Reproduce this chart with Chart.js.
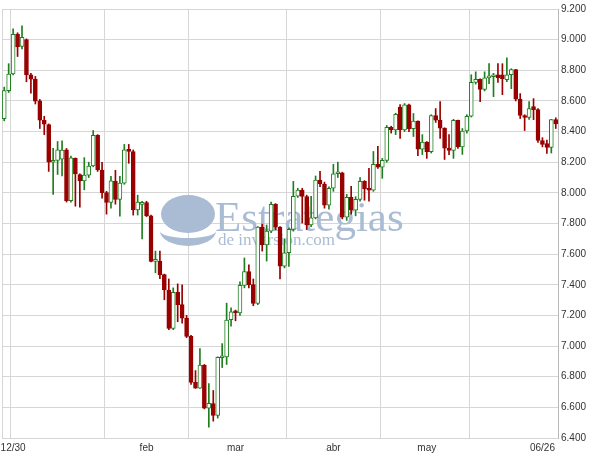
<!DOCTYPE html>
<html>
<head>
<meta charset="utf-8">
<script src="https://cdn.jsdelivr.net/npm/chart.js@4.4.0/dist/chart.umd.min.js"></script>
<style>
  html, body { margin: 0; padding: 0; background: #fff; }
  #wrap { position: relative; width: 596px; height: 458px; }
</style>
</head>
<body>
<div id="wrap"><canvas id="chart"></canvas></div>
<script>
// Daily sessions 12/30 -> 06/26
const dates = [
  '12/30','12/31',
  '01/02','01/05','01/06','01/07','01/08','01/09','01/12','01/13','01/14','01/15','01/16','01/19','01/20','01/21','01/22','01/23','01/26','01/27','01/28','01/29','01/30',
  '02/02','02/03','02/04','02/05','02/06','02/09','02/10','02/11','02/12','02/13','02/17','02/18','02/19','02/20','02/23','02/24','02/25','02/26','02/27',
  '03/02','03/03','03/04','03/05','03/06','03/09','03/10','03/11','03/12','03/13','03/16','03/17','03/18','03/19','03/20','03/23','03/24','03/25','03/26','03/27','03/30','03/31',
  '04/01','04/02','04/03','04/06','04/07','04/08','04/09','04/13','04/14','04/15','04/16','04/17','04/20','04/21','04/22','04/23','04/24','04/27','04/28','04/29','04/30',
  '05/01','05/04','05/05','05/06','05/07','05/08','05/11','05/12','05/13','05/14','05/15','05/18','05/19','05/20','05/21','05/22','05/26','05/27','05/28','05/29',
  '06/01','06/02','06/03','06/04','06/05','06/08','06/09','06/10','06/11','06/12','06/15','06/16','06/17','06/18','06/19','06/22','06/23','06/24','06/25','06/26'
];

const opens = [
  8485, 8667,
  8776, 9035, 8955, 9000, 8770, 8742, 8600, 8474, 8446, 8200, 8212, 8220, 8281, 7949, 8225, 8120, 8078, 8116, 8175, 8375, 8149,
  8001, 7937, 8075, 7957, 8063, 8281, 8270, 7889, 7925, 7937, 7850, 7553, 7555, 7466, 7366, 7115, 7350, 7270, 7182,
  7063, 6764, 6726, 6874, 6595, 6625, 6547, 6924, 6930, 7172, 7230, 7217, 7396, 7487, 7401, 7278, 7776, 7660, 7750, 7925, 7776, 7522,
  7609, 7762, 7978, 8018, 7976, 7790, 7837, 8083, 8058, 7920, 8030, 8125, 8131, 7842, 7970, 7887, 7957, 8076, 8025, 8017, 8186,
  8168, 8212, 8427, 8411, 8560, 8410, 8575, 8419, 8469, 8285, 8331, 8269, 8504, 8475, 8422, 8292, 8277, 8473, 8300, 8404,
  8500, 8721, 8741, 8675, 8750, 8758, 8771, 8771, 8739, 8771, 8804, 8612, 8505, 8492, 8563, 8543, 8342, 8322, 8296, 8478
];
const highs = [
  8690, 8843,
  9070, 9045, 9090, 9005, 8780, 8760, 8610, 8500, 8450, 8290, 8335, 8340, 8290, 8240, 8228, 8125, 8230, 8200, 8407, 8380, 8200,
  8010, 8108, 8147, 8108, 8316, 8316, 8280, 7985, 7945, 7945, 7855, 7620, 7620, 7470, 7438, 7380, 7406, 7400, 7200,
  7070, 6840, 6984, 6880, 6756, 6710, 6930, 7016, 7280, 7250, 7235, 7420, 7575, 7530, 7438, 7780, 7796, 7790, 7940, 7930, 7780, 7700,
  7770, 8075, 8030, 8030, 7985, 7978, 8110, 8140, 8070, 8040, 8186, 8200, 8135, 7990, 8043, 7975, 8100, 8080, 8160, 8270, 8303,
  8225, 8440, 8435, 8520, 8576, 8583, 8580, 8518, 8470, 8380, 8335, 8510, 8550, 8595, 8425, 8380, 8480, 8475, 8420, 8510,
  8771, 8790, 8745, 8790, 8843, 8780, 8843, 8843, 8882, 8810, 8806, 8648, 8510, 8595, 8615, 8550, 8360, 8345, 8480, 8490
];
const lows = [
  8470, 8655,
  8770, 8890, 8940, 8725, 8650, 8580, 8420, 8380, 8140, 7990, 8120, 8110, 7940, 7940, 7913, 7906, 8020, 8100, 8170, 8140, 7965,
  7861, 7900, 7926, 7848, 8056, 8193, 7855, 7855, 7700, 7845, 7550, 7478, 7440, 7302, 7107, 7107, 7159, 7150, 7055,
  6750, 6724, 6724, 6590, 6470, 6510, 6530, 6860, 6880, 7130, 7165, 7200, 7380, 7380, 7263, 7270, 7620, 7555, 7740, 7760, 7438, 7510,
  7520, 7750, 7970, 7803, 7760, 7780, 7830, 8040, 7900, 7893, 8010, 8100, 7830, 7820, 7861, 7850, 7945, 7952, 7945, 8010, 8160,
  8095, 8200, 8390, 8380, 8355, 8400, 8400, 8368, 8242, 8250, 8225, 8260, 8460, 8355, 8218, 8250, 8225, 8290, 8251, 8390,
  8495, 8710, 8595, 8665, 8713, 8628, 8720, 8641, 8725, 8680, 8600, 8485, 8407, 8480, 8478, 8330, 8300, 8257, 8260, 8420
];
const closes = [
  8668, 8776,
  9035, 8953, 9015, 8770, 8742, 8599, 8474, 8449, 8200, 8212, 8281, 8280, 7949, 8228, 8123, 8078, 8116, 8175, 8375, 8149, 8001,
  7937, 8078, 7957, 8063, 8281, 8271, 7889, 7940, 7937, 7850, 7553, 7562, 7466, 7366, 7115, 7351, 7271, 7182, 7063,
  6763, 6726, 6876, 6594, 6627, 6547, 6926, 6930, 7170, 7224, 7217, 7396, 7487, 7401, 7278, 7776, 7660, 7750, 7925, 7776, 7522, 7609,
  7762, 7978, 8018, 7976, 7790, 7837, 8083, 8058, 7920, 8030, 8125, 8131, 7842, 7970, 7887, 7957, 8076, 8025, 8017, 8186, 8168,
  8212, 8427, 8411, 8512, 8410, 8575, 8419, 8469, 8285, 8331, 8269, 8504, 8475, 8422, 8292, 8277, 8473, 8300, 8404, 8500,
  8721, 8741, 8675, 8750, 8763, 8764, 8752, 8745, 8771, 8804, 8612, 8505, 8492, 8550, 8543, 8342, 8316, 8296, 8478, 8450
];

// month boundaries (first session of each month) and bottom axis labels
const monthStarts = [2, 23, 42, 64, 85, 105];
const axisText = ['12/30', 'feb', 'mar', 'abr', 'may', '06/26'];
const axisTextAt = [2, 32, 52, 74, 95, 121];

const UP = '#1f7f1f';
const DOWN = '#990000';
const GRID = '#d6d6d6';

const isUp = i => closes[i] >= opens[i];
const bodies = opens.map((o, i) => [Math.min(o, closes[i]), Math.max(o, closes[i])]);
const wicks = lows.map((l, i) => [l, highs[i]]);

// faded logo / text behind the candles
const watermark = {
    id: 'watermark',
    beforeDatasetsDraw(chart) {
        const c = chart.ctx;
        c.save();
        c.fillStyle = '#aabcd4';
        c.beginPath();
        c.ellipse(188, 214, 27, 19, 0, 0, Math.PI * 2);
        c.fill();
        c.beginPath();
        c.ellipse(188, 231, 28, 15, 0, 0, Math.PI);
        c.ellipse(188, 231, 28, 7, 0, Math.PI, 0, true);
        c.fill();
        c.font = '43px "Liberation Serif", serif';
        c.fillText('Estrategias', 215, 231);
        c.font = '17px "Liberation Serif", serif';
        c.fillText('de inversión.com', 218, 245);
        c.restore();
    }
};

const labelFont = { family: "'Liberation Sans', Arial, sans-serif", size: 10 };

new Chart(document.getElementById('chart').getContext('2d'), {
    type: 'bar',
    data: {
        labels: dates,
        datasets: [{
            label: 'body',
            data: bodies,
            order: 0,
            grouped: false,
            barThickness: 4,
            minBarLength: 2,
            borderWidth: 1,
            borderSkipped: false,
            backgroundColor: ctx => isUp(ctx.dataIndex) ? '#ffffff' : DOWN,
            borderColor: ctx => isUp(ctx.dataIndex) ? UP : DOWN
        }, {
            label: 'wick',
            data: wicks,
            order: 1,
            grouped: false,
            barThickness: 1,
            borderWidth: 0,
            backgroundColor: ctx => isUp(ctx.dataIndex) ? UP : DOWN
        }]
    },
    options: {
        responsive: true,
        maintainAspectRatio: false,
        animation: false,
        layout: { padding: { left: 2, top: 7, right: 0, bottom: 0 } },
        plugins: { legend: { display: false }, tooltip: { enabled: false } },
        scales: {
            x: {
                offset: true,
                grid: {
                    offset: true,
                    drawTicks: false,
                    color: ctx => (ctx.index === 0 || monthStarts.includes(ctx.index)) ? GRID : 'rgba(0,0,0,0)'
                },
                border: { display: false },
                ticks: {
                    autoSkip: false,
                    maxRotation: 0,
                    minRotation: 0,
                    padding: 4,
                    color: '#333',
                    font: labelFont,
                    callback: (v, i) => {
                        const k = axisTextAt.indexOf(i);
                        return k >= 0 ? axisText[k] : '';
                    }
                },
                afterFit: s => { s.height = 20; }
            },
            y: {
                position: 'right',
                min: 6400,
                max: 9200,
                grid: { color: GRID, drawTicks: false },
                border: { display: true, color: '#b8b8b8' },
                ticks: {
                    stepSize: 200,
                    padding: 3,
                    color: '#333',
                    font: labelFont,
                    callback: v => (v / 1000).toFixed(3)
                },
                afterFit: s => { s.width = 38; }
            }
        }
    },
    plugins: [watermark]
});
</script>
</body>
</html>
